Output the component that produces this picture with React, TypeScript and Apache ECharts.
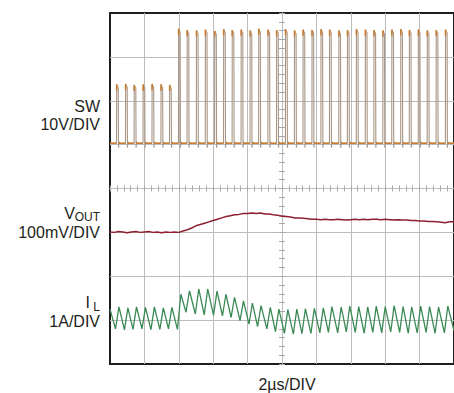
import React, { useEffect, useRef } from "react";
import * as echarts from "echarts";

// Screen units: 10 horizontal divisions (2µs/DIV), 8 vertical divisions.
const xDivs = [0, 10];
const yDivs = [0, 8];

// SW trace: start of each switching pulse (div) and its top level (div)
const swPulseT = [
  0.19, 0.45, 0.7, 0.96, 1.22, 1.48, 1.73, 1.99, 2.24, 2.51, 2.77, 3.04, 3.3, 3.55, 3.81, 4.07,
  4.32, 4.59, 4.84, 5.1, 5.36, 5.61, 5.87, 6.13, 6.38, 6.65, 6.9, 7.16, 7.42, 7.67, 7.93, 8.19,
  8.45, 8.7, 8.96, 9.22, 9.48, 9.75,
];
const swPulseTop = [
  6.33, 6.34, 6.32, 6.33, 6.34, 6.33, 6.32, 7.6, 7.57, 7.56, 7.58, 7.55, 7.59, 7.57, 7.58, 7.56,
  7.6, 7.58, 7.57, 7.59, 7.56, 7.58, 7.57, 7.59, 7.58, 7.56, 7.57, 7.59, 7.58, 7.57, 7.56, 7.58,
  7.59, 7.57, 7.58, 7.56, 7.57, 7.58,
];
const swBase = 5.03;

// Inductor current: valley before and peak after each switching pulse (div)
const ilValley = [
  0.8, 0.78, 0.79, 0.8, 0.78, 0.79, 0.8, 0.79, 1.18, 1.14, 1.12, 1.11, 1.1, 1.06, 0.99, 0.91,
  0.85, 0.8, 0.74, 0.7, 0.68, 0.69, 0.7, 0.71, 0.72, 0.71, 0.73, 0.72, 0.7, 0.72, 0.71, 0.73,
  0.72, 0.7, 0.71, 0.72, 0.7, 0.71,
];
const ilPeak = [
  1.3, 1.28, 1.3, 1.29, 1.3, 1.28, 1.29, 1.59, 1.67, 1.71, 1.71, 1.66, 1.59, 1.52, 1.44, 1.39,
  1.33, 1.29, 1.25, 1.24, 1.25, 1.26, 1.27, 1.28, 1.31, 1.3, 1.32, 1.31, 1.3, 1.32, 1.31, 1.33,
  1.31, 1.3, 1.32, 1.31, 1.3, 1.32,
];
const ilStart = 1.25;
const ilEnd = 0.76;

// Output voltage (div)
const voutT = [
  0, 0.125, 0.25, 0.375, 0.5, 0.625, 0.75, 0.875, 1, 1.125, 1.25, 1.375, 1.5, 1.625, 1.75, 1.875,
  2, 2.125, 2.25, 2.375, 2.5, 2.625, 2.75, 2.875, 3, 3.125, 3.25, 3.375, 3.5, 3.625, 3.75, 3.875,
  4, 4.125, 4.25, 4.375, 4.5, 4.625, 4.75, 4.875, 5, 5.125, 5.25, 5.375, 5.5, 5.625, 5.75, 5.875,
  6, 6.125, 6.25, 6.375, 6.5, 6.625, 6.75, 6.875, 7, 7.125, 7.25, 7.375, 7.5, 7.625, 7.75, 7.875,
  8, 8.125, 8.25, 8.375, 8.5, 8.625, 8.75, 8.875, 9, 9.125, 9.25, 9.375, 9.5, 9.625, 9.75, 9.875, 10,
];
const voutV = [
  3.01, 3.0, 3.02, 3.01, 2.99, 3.01, 3.02, 3.0, 3.01, 3.02, 3.0, 3.01, 2.99, 3.01, 3.0, 3.01,
  3.0, 3.03, 3.06, 3.1, 3.15, 3.18, 3.21, 3.24, 3.27, 3.3, 3.33, 3.36, 3.38, 3.4, 3.41, 3.43,
  3.43, 3.44, 3.43, 3.44, 3.42, 3.42, 3.4, 3.39, 3.37, 3.36, 3.35, 3.33, 3.33, 3.32, 3.31, 3.3,
  3.3, 3.29, 3.3, 3.29, 3.29, 3.3, 3.29, 3.28, 3.29, 3.3, 3.29, 3.3, 3.29, 3.3, 3.3, 3.29,
  3.3, 3.29, 3.28, 3.29, 3.28, 3.28, 3.27, 3.27, 3.26, 3.26, 3.25, 3.25, 3.24, 3.23, 3.22, 3.24, 3.24,
];

const bottomLabel = "2µs/DIV";

type Pt = [number, number | string];

function buildSwEdges(): Pt[] {
  const pts: Pt[] = [[xDivs[0], swBase]];
  swPulseT.forEach((t, k) => {
    const top = swPulseTop[k];
    pts.push(
      [t, swBase],
      [t + 0.004, top + 0.04],
      [t + 0.015, top],
      [t + 0.05, top - 0.03],
      [t + 0.058, swBase - 0.1],
      [t + 0.07, swBase + 0.03],
      [t + 0.085, swBase]
    );
  });
  pts.push([xDivs[1], swBase]);
  return pts;
}

function buildSwTrace(): Pt[] {
  const pts: Pt[] = [[xDivs[0], swBase]];
  swPulseT.forEach((t, k) => {
    const top = swPulseTop[k];
    pts.push(
      [t, swBase],
      [t, "-"],
      [t + 0.002, top - 0.1],
      [t + 0.004, top + 0.04],
      [t + 0.02, top],
      [t + 0.02, "-"],
      [t + 0.07, swBase + 0.03],
      [t + 0.085, swBase]
    );
  });
  pts.push([xDivs[1], swBase]);
  return pts;
}

function buildIl(): Pt[] {
  const pts: Pt[] = [[xDivs[0], ilStart]];
  swPulseT.forEach((t, k) => {
    pts.push([t - 0.03, ilValley[k]], [t + 0.07, ilPeak[k]]);
  });
  pts.push([xDivs[1], ilEnd]);
  return pts;
}

function buildVout(): Pt[] {
  return voutT.map((t, i) => [t, voutV[i]] as Pt);
}

const gridColor = "#bcbcbc";
const textColor = "#231f20";
const font = "Liberation Sans, Arial, sans-serif";

function centerAxis(dim: "x" | "y", inside: boolean) {
  const half = dim === "x" ? xDivs[1] / 2 : yDivs[1] / 2;
  return {
    type: "value",
    min: -half,
    max: half,
    interval: 0.2,
    axisLine: { show: true, onZero: true, onZeroAxisIndex: 1, lineStyle: { color: gridColor, width: 1 } },
    axisTick: { show: true, inside, length: 3, lineStyle: { color: "#a8a8a8", width: 1 } },
    axisLabel: { show: false },
    splitLine: { show: false },
  };
}

function label(text: string, x: number, y: number, size: number, align: string) {
  return {
    type: "text",
    x,
    y,
    silent: true,
    style: {
      text,
      fill: textColor,
      fontSize: size,
      fontFamily: font,
      lineHeight: size - 1,
      align,
      verticalAlign: "middle",
    },
  };
}

export default function App() {
  const ref = useRef<HTMLDivElement>(null);
  useEffect(() => {
    if (!ref.current) return;
    const chart = echarts.init(ref.current, undefined, { renderer: "svg" });
    chart.setOption({
      animation: false,
      backgroundColor: "#ffffff",
      grid: {
        left: 110,
        top: 13,
        width: 351,
        height: 351,
        show: true,
        borderColor: "#1e1e1e",
        borderWidth: 2,
        backgroundColor: "transparent",
      },
      xAxis: [
        {
          type: "value",
          min: xDivs[0],
          max: xDivs[1],
          interval: 1,
          axisLine: { show: false, onZero: false },
          axisTick: { show: false },
          axisLabel: { show: false },
          splitLine: { show: true, showMinLine: false, showMaxLine: false, lineStyle: { color: gridColor, width: 1 } },
        },
        centerAxis("x", false),
        centerAxis("x", true),
      ],
      yAxis: [
        {
          type: "value",
          min: yDivs[0],
          max: yDivs[1],
          interval: 1,
          axisLine: { show: false, onZero: false },
          axisTick: { show: false },
          axisLabel: { show: false },
          splitLine: { show: true, showMinLine: false, showMaxLine: false, lineStyle: { color: gridColor, width: 1 } },
        },
        centerAxis("y", false),
        centerAxis("y", true),
      ],
      series: [
        {
          name: "SW edges",
          type: "line",
          data: buildSwEdges(),
          showSymbol: false,
          silent: true,
          lineStyle: { color: "#a99686", width: 1.1 },
          z: 3,
        },
        {
          name: "SW",
          type: "line",
          data: buildSwTrace(),
          showSymbol: false,
          silent: true,
          connectNulls: false,
          lineStyle: { color: "#c97b2e", width: 1.5 },
          z: 4,
        },
        {
          name: "VOUT",
          type: "line",
          data: buildVout(),
          showSymbol: false,
          silent: true,
          lineStyle: { color: "#8e1f30", width: 1.5 },
          z: 4,
        },
        {
          name: "IL",
          type: "line",
          data: buildIl(),
          showSymbol: false,
          silent: true,
          lineStyle: { color: "#3b8a55", width: 1.3 },
          z: 4,
        },
      ],
      graphic: [
        label("SW", 100, 106, 16, "right"),
        label("10V/DIV", 100, 124, 16, "right"),
        label("V", 75, 213, 16, "right"),
        label("OUT", 100, 217, 12, "right"),
        label("100mV/DIV", 100, 232, 16, "right"),
        label("I", 90, 302, 16, "right"),
        label("L", 100, 307, 12, "right"),
        label("1A/DIV", 100, 321, 16, "right"),
        label(bottomLabel, 287, 384, 16, "center"),
      ],
    });
    return () => chart.dispose();
  }, []);
  return (
    <div
      ref={ref}
      style={{ position: "fixed", left: 0, top: 0, width: 454, height: 393, background: "#fff" }}
    />
  );
}
